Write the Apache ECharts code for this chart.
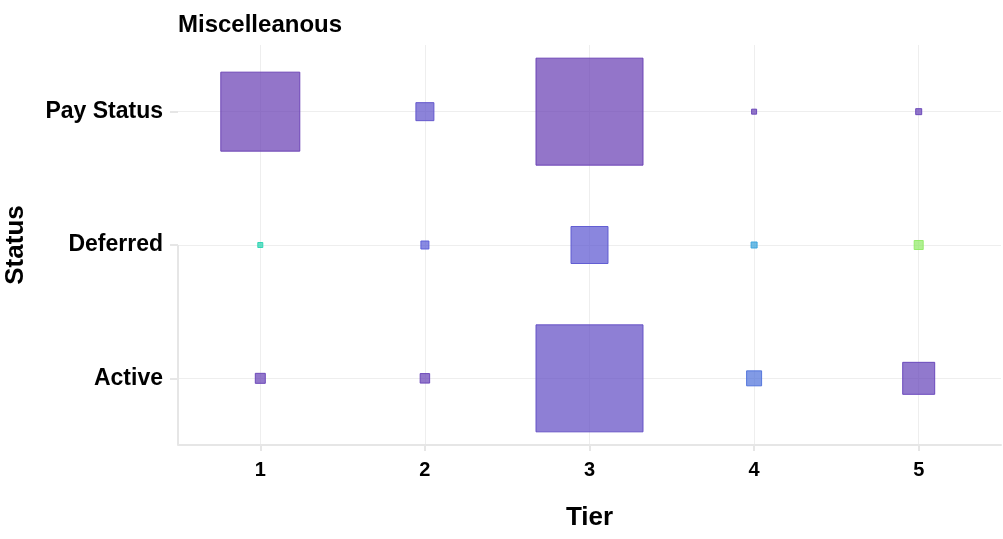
<!DOCTYPE html>
<html><head><meta charset="utf-8">
<script src="https://cdn.jsdelivr.net/npm/echarts@6/dist/echarts.min.js"></script>
<style>html,body{margin:0;padding:0;background:#fff}#c{width:1003px;height:539px}</style>
</head><body><div id="c"></div>
<script>
// ---- data ----
const tiers = ['1', '2', '3', '4', '5'];
const statuses = ['Active', 'Deferred', 'Pay Status'];
// counts (marker area ~ count)
const activeCounts = [100, 90, 11449, 225, 1024];
const deferredCounts = [25, 64, 1369, 36, 81];
const payStatusCounts = [6241, 324, 11449, 25, 36];
// colour metric (0..1)
const activeScore = [0.03, 0.03, 0.12, 0.33, 0.05];
const deferredScore = [0.74, 0.24, 0.2, 0.52, 0.96];
const payStatusScore = [0.01, 0.16, 0.01, 0.03, 0.03];

const GRID = {left: 178, right: 2, top: 45, bottom: 94, outerBoundsMode: 'none', containLabel: false};
const palette = ['#6a3fb3', '#5a5ed8', '#3a9fe0', '#2ad6b0', '#a6ee5a'];
const font = 'Liberation Sans, Arial, sans-serif';

const rows = [
  ['Active', activeCounts, activeScore],
  ['Deferred', deferredCounts, deferredScore],
  ['Pay Status', payStatusCounts, payStatusScore]
];
const data = [];
rows.forEach(function (r) {
  tiers.forEach(function (t, i) {
    const c = echarts.color.lerp(r[2][i], palette);
    data.push({
      value: [t, r[0], r[1][i], r[2][i]],
      itemStyle: {
        color: echarts.color.modifyAlpha(c, 0.72),
        borderColor: echarts.color.modifyAlpha(c, 0.95),
        borderWidth: 1,
        opacity: 1
      }
    });
  });
});

const chart = echarts.init(document.getElementById('c'), null, {renderer: 'canvas'});
chart.setOption({
  animation: false,
  backgroundColor: '#fff',
  title: {
    text: 'Miscelleanous', left: GRID.left, top: 13, padding: 0,
    textStyle: {fontFamily: font, fontWeight: 'bold', fontSize: 24, color: '#000'}
  },
  grid: GRID,
  xAxis: {
    type: 'category', data: tiers,
    name: 'Tier', nameLocation: 'middle', nameGap: 60,
    nameTextStyle: {fontFamily: font, fontWeight: 'bold', fontSize: 26, color: '#000'},
    axisLine: {show: true, lineStyle: {color: '#e6e6e6', width: 2}},
    axisTick: {show: true, alignWithLabel: true, length: 6, lineStyle: {color: '#e6e6e6', width: 2}},
    axisLabel: {fontFamily: font, fontWeight: 'bold', fontSize: 20, color: '#000', margin: 15},
    splitLine: {show: true, alignWithLabel: true, lineStyle: {color: '#eeeeee', width: 1}}
  },
  yAxis: {
    type: 'category', data: statuses,
    name: 'Status', nameLocation: 'middle', nameGap: 149, nameRotate: 90,
    nameTextStyle: {fontFamily: font, fontWeight: 'bold', fontSize: 26, color: '#000'},
    axisLine: {show: false},
    axisTick: {show: true, alignWithLabel: true, length: 8, lineStyle: {color: '#e6e6e6', width: 2}},
    axisLabel: {fontFamily: font, fontWeight: 'bold', fontSize: 23, color: '#000', margin: 15},
    splitLine: {show: true, alignWithLabel: true, lineStyle: {color: '#eeeeee', width: 1}}
  },
  series: [{
    type: 'scatter',
    symbol: 'rect',
    symbolSize: function (v) { return Math.sqrt(v[2]); },
    data: data
  }]
});

// partial left guide line (from Deferred row down to the x axis)
const yDef = chart.convertToPixel({yAxisIndex: 0}, 'Deferred');
chart.setOption({
  graphic: [{
    type: 'line', silent: true,
    shape: {x1: GRID.left, y1: yDef, x2: GRID.left, y2: 539 - GRID.bottom},
    style: {stroke: '#e6e6e6', lineWidth: 2}
  }]
});
</script>
</body></html>
